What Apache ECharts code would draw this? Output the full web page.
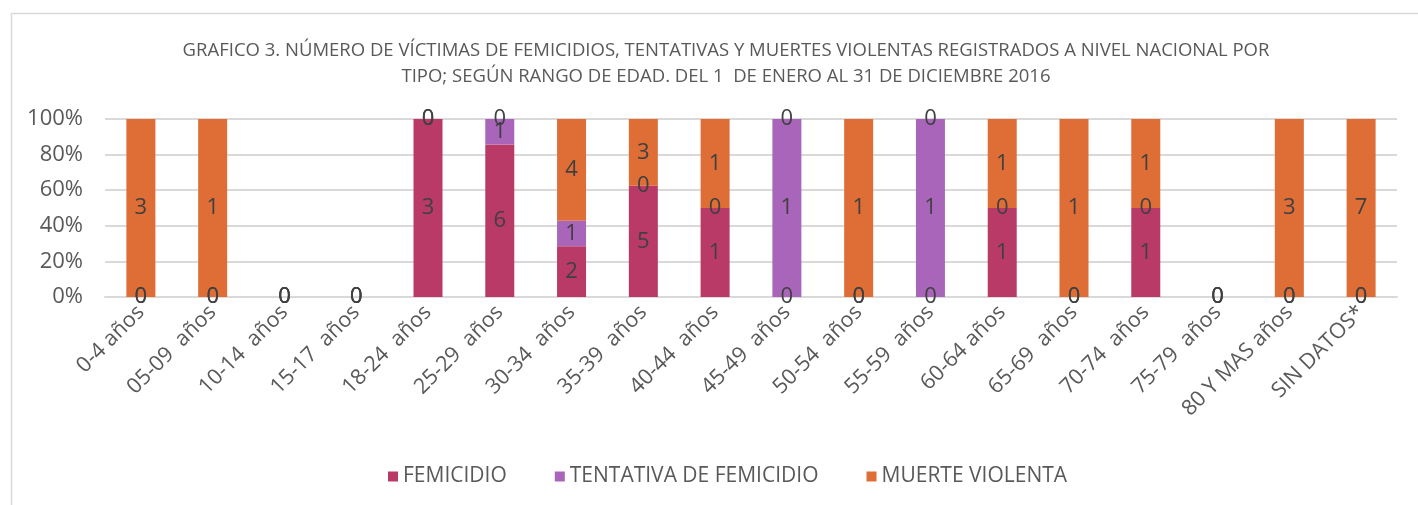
<!DOCTYPE html>
<html>
<head>
<meta charset="utf-8">
<script src="https://cdn.jsdelivr.net/npm/echarts@6/dist/echarts.min.js"></script>
<style>
  html, body { margin: 0; padding: 0; background: #fff; }
  #chart { width: 1418px; height: 505px; }
</style>
</head>
<body>
<div id="chart"></div>
<script>
// categorías (rango de edad)
const categories = [
  "0-4 años", "05-09  años", "10-14  años", "15-17  años", "18-24  años",
  "25-29  años", "30-34  años", "35-39  años", "40-44  años", "45-49  años",
  "50-54  años", "55-59  años", "60-64 años", "65-69  años", "70-74  años",
  "75-79  años", "80 Y MAS años", "SIN DATOS*"
];
// número de víctimas por tipo
const femicidio  = [0, 0, 0, 0, 3, 6, 2, 5, 1, 0, 0, 0, 1, 0, 1, 0, 0, 0];
const tentativa  = [0, 0, 0, 0, 0, 1, 1, 0, 0, 1, 0, 1, 0, 0, 0, 0, 0, 0];
const muerte     = [3, 1, 0, 0, 0, 0, 4, 3, 1, 0, 1, 0, 1, 1, 1, 0, 3, 7];
const yTicks = [0, 20, 40, 60, 80, 100];

const totals = categories.map((_, i) => femicidio[i] + tentativa[i] + muerte[i]);

// porcentaje del total de cada rango, con el valor original para la etiqueta
function toPercent(arr) {
  return arr.map((v, i) => ({
    value: totals[i] ? v / totals[i] * 100 : 0,
    raw: v
  }));
}

const chart = echarts.init(document.getElementById('chart'));

const labelStyle = {
  show: true,
  position: 'inside',
  color: '#404040',
  fontSize: 22,
  fontFamily: 'Open Sans',
  formatter: p => p.data.raw
};

function makeSeries(name, arr, color) {
  return {
    name: name,
    type: 'bar',
    stack: 'total',
    barWidth: 29,
    itemStyle: { color: color },
    label: labelStyle,
    data: toPercent(arr)
  };
}

chart.setOption({
  animation: false,
  textStyle: { fontFamily: 'Open Sans' },
  title: {
    text: 'GRAFICO 3. NÚMERO DE VÍCTIMAS DE FEMICIDIOS, TENTATIVAS Y MUERTES VIOLENTAS REGISTRADOS A NIVEL NACIONAL POR\nTIPO; SEGÚN RANGO DE EDAD. DEL 1  DE ENERO AL 31 DE DICIEMBRE 2016',
    left: 721,
    textAlign: 'center',
    top: 33,
    textStyle: {
      fontSize: 18.5,
      fontWeight: 'normal',
      color: '#595959',
      lineHeight: 26,
      fontFamily: 'Open Sans'
    }
  },
  graphic: [{
    type: 'rect',
    shape: { x: 11.5, y: 13.5, width: 1420, height: 500 },
    style: { fill: 'none', stroke: '#d9d9d9', lineWidth: 1.5 },
    silent: true
  }],
  legend: {
    top: 461,
    left: 383,
    icon: 'rect',
    itemWidth: 10,
    itemHeight: 10,
    itemGap: 48,
    textStyle: { fontSize: 21, color: '#595959', fontFamily: 'Open Sans' },
    data: ['FEMICIDIO', 'TENTATIVA DE FEMICIDIO', 'MUERTE VIOLENTA']
  },
  grid: { left: 105, right: 21, top: 119, bottom: 208 },
  xAxis: {
    type: 'category',
    data: categories,
    axisLine: { lineStyle: { color: '#d9d9d9', width: 2 } },
    axisTick: { show: false },
    axisLabel: {
      interval: 0,
      rotate: 45,
      fontSize: 21.5,
      color: '#595959',
      margin: 12
    }
  },
  yAxis: {
    type: 'value',
    min: 0,
    max: 100,
    interval: 20,
    axisLine: { show: false },
    axisTick: { show: false },
    splitLine: { lineStyle: { color: '#d9d9d9', width: 2 } },
    axisLabel: {
      fontSize: 22,
      color: '#595959',
      margin: 22,
      formatter: v => yTicks.includes(v) ? v + '%' : ''
    }
  },
  series: [
    makeSeries('FEMICIDIO', femicidio, '#B93A66'),
    makeSeries('TENTATIVA DE FEMICIDIO', tentativa, '#A865BA'),
    makeSeries('MUERTE VIOLENTA', muerte, '#DE6D36')
  ]
});
</script>
</body>
</html>
